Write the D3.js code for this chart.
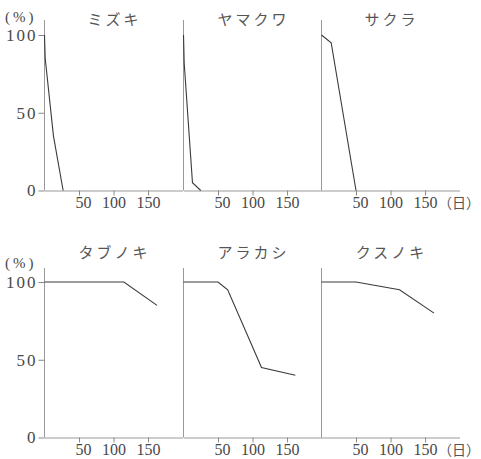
<!DOCTYPE html>
<html>
<head>
<meta charset="utf-8">
<script src="https://cdn.jsdelivr.net/npm/d3@7"></script>
<style>
  body { margin: 0; background: #fff; }
  svg { display: block; }
  .num { font-family: "Liberation Serif", "DejaVu Serif", serif; fill: #484848; }
  .jp { font-family: "Noto Sans CJK JP", sans-serif; fill: #555; }
</style>
</head>
<body>
<svg id="chart" width="481" height="459"></svg>
<script>
// 樹種の名前(上段・下段)
var treeNames = ["ミズキ", "ヤマクワ", "サクラ", "タブノキ", "アラカシ", "クスノキ"];

// 経過日数と残存率(%)
var mizukiDays = [0, 1, 13, 27];
var mizukiValues = [100, 85, 35, 0];
var yamakuwaDays = [0, 1, 13, 25];
var yamakuwaValues = [100, 82, 5, 0];
var sakuraDays = [0, 14, 50];
var sakuraValues = [100, 95, 0];
var tabunokiDays = [0, 115, 163];
var tabunokiValues = [100, 100, 85];
var arakashiDays = [0, 50, 64, 113, 162];
var arakashiValues = [100, 100, 95, 45, 40];
var kusunokiDays = [0, 50, 113, 163];
var kusunokiValues = [100, 100, 95, 80];

// 目盛り
var xTicks = [50, 100, 150];
var yTicks = [0, 50, 100];

var seriesDays = [mizukiDays, yamakuwaDays, sakuraDays, tabunokiDays, arakashiDays, kusunokiDays];
var seriesValues = [mizukiValues, yamakuwaValues, sakuraValues, tabunokiValues, arakashiValues, kusunokiValues];

var svg = d3.select("#chart");
var panelLeft = [44.5, 183.5, 321.5];
var panelWidth = 136;
// 行ごとの縦位置 (0%の位置, 100%の位置, 縦軸の上端, 見出しと目盛り文字の基線)
var rows = [
  { bottom: 190.5, top: 35, axisTop: 20, titleY: 25, labelY: 208, unitY: 22 },
  { bottom: 437.5, top: 282, axisTop: 268, titleY: 258, labelY: 455, unitY: 268 }
];

var line = d3.line();

for (var i = 0; i < 6; i++) {
  var row = rows[Math.floor(i / 3)];
  var col = i % 3;
  var x = d3.scaleLinear().domain([0, 200]).range([panelLeft[col], panelLeft[col] + panelWidth * 200 / 197]);
  var y = d3.scaleLinear().domain([0, 100]).range([row.bottom, row.top]);
  var g = svg.append("g");

  // 横軸 (数字は3桁幅で右寄せ)
  var xAxis = d3.axisBottom(x).tickValues(xTicks).tickSize(5).tickSizeOuter(0);
  var gx = g.append("g").attr("transform", `translate(0,${row.bottom})`).call(xAxis);
  gx.select(".domain").attr("stroke", "#999");
  gx.selectAll(".tick line").attr("stroke", "#888");
  gx.selectAll(".tick text")
    .attr("class", "num")
    .attr("font-size", 16)
    .attr("text-anchor", "end")
    .attr("x", 12)
    .attr("dy", null)
    .attr("y", row.labelY - row.bottom)
    .attr("fill", "#484848");

  // 縦軸
  g.append("line")
    .attr("x1", x(0)).attr("x2", x(0))
    .attr("y1", row.axisTop).attr("y2", row.bottom)
    .attr("stroke", "#999");

  if (col == 0) {
    var yAxis = d3.axisLeft(y).tickValues(yTicks).tickSize(6).tickSizeOuter(0).tickPadding(1);
    var gy = g.append("g").attr("transform", `translate(${x(0)},0)`).call(yAxis);
    gy.select(".domain").remove();
    gy.selectAll(".tick line").attr("stroke", "#888");
    gy.selectAll(".tick text")
      .attr("class", "num")
      .attr("font-size", 17)
      .attr("letter-spacing", 2)
      .attr("fill", "#484848");
    g.append("text")
      .attr("class", "num")
      .attr("x", 5)
      .attr("y", row.unitY)
      .attr("font-size", 15)
      .attr("letter-spacing", 3)
      .text("(%)");
  }

  if (col == 2) {
    g.append("text")
      .attr("class", "jp")
      .attr("x", 438)
      .attr("y", row.labelY)
      .attr("font-size", 14)
      .text("（日）");
  }

  // 樹種名
  g.append("text")
    .attr("class", "jp")
    .attr("x", x(0) + 70)
    .attr("y", row.titleY)
    .attr("text-anchor", "middle")
    .attr("font-size", 15)
    .attr("letter-spacing", 3)
    .text(treeNames[i]);

  // 残存率の折れ線
  var points = seriesDays[i].map((d, k) => [x(d), y(seriesValues[i][k])]);
  g.append("path")
    .attr("d", line(points))
    .attr("fill", "none")
    .attr("stroke", "#3a3a3a")
    .attr("stroke-width", 1.1);
}
</script>
</body>
</html>
